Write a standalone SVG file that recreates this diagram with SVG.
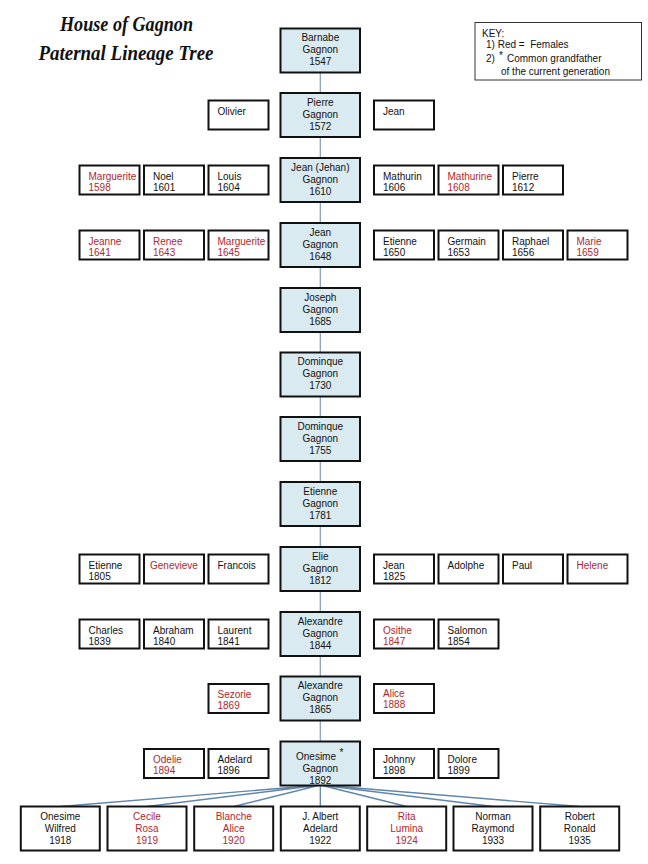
<svg xmlns="http://www.w3.org/2000/svg" width="648" height="864" viewBox="0 0 648 864">
<style>
text{font-family:"Liberation Sans",Arial,sans-serif;font-size:10px;fill:#111}
.f{fill:#b3262c}
.c{text-anchor:middle}
.main{fill:#daeaf1;stroke:#111;stroke-width:2}
.side{fill:#fff;stroke:#111;stroke-width:2}
.key{fill:#fff;stroke:#333;stroke-width:1}
.v{stroke:#8aa2ba;stroke-width:1.3;fill:none}
.fan{stroke:#5f86ad;stroke-width:1.3;fill:none}
.title{font-family:"Liberation Serif","DejaVu Serif",serif;font-style:italic;font-weight:bold;font-size:20px;text-anchor:middle}
</style>
<rect width="648" height="864" fill="#fff"/>
<g id="title">
<text class="title" x="126.5" y="31" textLength="133" lengthAdjust="spacingAndGlyphs">House of Gagnon</text>
<text class="title" x="126" y="60" textLength="175" lengthAdjust="spacingAndGlyphs">Paternal Lineage Tree</text>
</g>
<g id="key">
<rect class="key" x="475" y="22.5" width="166.5" height="57.5"/>
<text x="482" y="37">KEY:</text>
<text x="486" y="48">1) Red =&#160; Females</text>
<text x="486" y="62">2) </text>
<text x="499" y="59" font-size="12">*</text>
<text x="507" y="62">Common grandfather</text>
<text x="501" y="75">of the current generation</text>
</g>
<g id="connectors">
<path class="v" d="M320.3 72.5V93M320.3 137.5V158M320.3 202.5V223M320.3 267.5V288M320.3 332V352.5M320.3 396.5V417M320.3 461.5V482M320.3 526V547M320.3 591V612M320.3 656V676.5M320.3 720.5V741.5"/>
<path class="fan" d="M320.3 785L60.3 806.5M320.3 785L147 806.5M320.3 785L233.7 806.5M320.3 785L320.3 806.5M320.3 785L406.7 806.5M320.3 785L493 806.5M320.3 785L579.7 806.5"/>
</g>
<g id="barnabe"><rect class="main" x="280.5" y="28.5" width="79.5" height="44"/><text class="c" x="320.3" y="41">Barnabe</text><text class="c" x="320.3" y="53">Gagnon</text><text class="c" x="320.3" y="65">1547</text></g>
<g id="pierre"><rect class="main" x="280.5" y="93" width="79.5" height="44"/><text class="c" x="320.3" y="105.5">Pierre</text><text class="c" x="320.3" y="117.5">Gagnon</text><text class="c" x="320.3" y="129.5">1572</text></g>
<g id="olivier"><rect class="side" x="208.5" y="100.5" width="60" height="29"/><text x="217.5" y="114.5">Olivier</text></g>
<g id="jean1"><rect class="side" x="374" y="100.5" width="60" height="29"/><text x="383" y="114.5">Jean</text></g>

<g id="jehan"><rect class="main" x="280.5" y="158" width="79.5" height="44"/><text class="c" x="320.3" y="170.5">Jean (Jehan)</text><text class="c" x="320.3" y="182.5">Gagnon</text><text class="c" x="320.3" y="194.5">1610</text></g>
<g id="marguerite1598"><rect class="side" x="79.5" y="165.5" width="60" height="29"/><text class="f" x="88.5" y="179.5">Marguerite</text><text class="f" x="88.5" y="190.5">1598</text></g>
<g id="noel"><rect class="side" x="144" y="165.5" width="60" height="29"/><text x="153" y="179.5">Noel</text><text x="153" y="190.5">1601</text></g>
<g id="louis"><rect class="side" x="208.5" y="165.5" width="60" height="29"/><text x="217.5" y="179.5">Louis</text><text x="217.5" y="190.5">1604</text></g>
<g id="mathurin"><rect class="side" x="374" y="165.5" width="60" height="29"/><text x="383" y="179.5">Mathurin</text><text x="383" y="190.5">1606</text></g>
<g id="mathurine"><rect class="side" x="438.5" y="165.5" width="60" height="29"/><text class="f" x="447.5" y="179.5">Mathurine</text><text class="f" x="447.5" y="190.5">1608</text></g>
<g id="pierre1612"><rect class="side" x="503" y="165.5" width="60" height="29"/><text x="512" y="179.5">Pierre</text><text x="512" y="190.5">1612</text></g>

<g id="jean1648"><rect class="main" x="280.5" y="223" width="79.5" height="44"/><text class="c" x="320.3" y="235.5">Jean</text><text class="c" x="320.3" y="247.5">Gagnon</text><text class="c" x="320.3" y="259.5">1648</text></g>
<g id="jeanne"><rect class="side" x="79.5" y="230.5" width="60" height="29"/><text class="f" x="88.5" y="244.5">Jeanne</text><text class="f" x="88.5" y="255.5">1641</text></g>
<g id="renee"><rect class="side" x="144" y="230.5" width="60" height="29"/><text class="f" x="153" y="244.5">Renee</text><text class="f" x="153" y="255.5">1643</text></g>
<g id="marguerite1645"><rect class="side" x="208.5" y="230.5" width="60" height="29"/><text class="f" x="217.5" y="244.5">Marguerite</text><text class="f" x="217.5" y="255.5">1645</text></g>
<g id="etienne1650"><rect class="side" x="374" y="230.5" width="60" height="29"/><text x="383" y="244.5">Etienne</text><text x="383" y="255.5">1650</text></g>
<g id="germain"><rect class="side" x="438.5" y="230.5" width="60" height="29"/><text x="447.5" y="244.5">Germain</text><text x="447.5" y="255.5">1653</text></g>
<g id="raphael"><rect class="side" x="503" y="230.5" width="60" height="29"/><text x="512" y="244.5">Raphael</text><text x="512" y="255.5">1656</text></g>
<g id="marie"><rect class="side" x="567.5" y="230.5" width="60" height="29"/><text class="f" x="576.5" y="244.5">Marie</text><text class="f" x="576.5" y="255.5">1659</text></g>

<g id="joseph"><rect class="main" x="280.5" y="288" width="79.5" height="44"/><text class="c" x="320.3" y="300.5">Joseph</text><text class="c" x="320.3" y="312.5">Gagnon</text><text class="c" x="320.3" y="324.5">1685</text></g>
<g id="dominque1730"><rect class="main" x="280.5" y="352.5" width="79.5" height="44"/><text class="c" x="320.3" y="365">Dominque</text><text class="c" x="320.3" y="377">Gagnon</text><text class="c" x="320.3" y="389">1730</text></g>
<g id="dominque1755"><rect class="main" x="280.5" y="417" width="79.5" height="44"/><text class="c" x="320.3" y="429.5">Dominque</text><text class="c" x="320.3" y="441.5">Gagnon</text><text class="c" x="320.3" y="453.5">1755</text></g>
<g id="etienne1781"><rect class="main" x="280.5" y="482" width="79.5" height="44"/><text class="c" x="320.3" y="494.5">Etienne</text><text class="c" x="320.3" y="506.5">Gagnon</text><text class="c" x="320.3" y="518.5">1781</text></g>

<g id="elie"><rect class="main" x="280.5" y="547" width="79.5" height="44"/><text class="c" x="320.3" y="559.5">Elie</text><text class="c" x="320.3" y="571.5">Gagnon</text><text class="c" x="320.3" y="583.5">1812</text></g>
<g id="etienne1805"><rect class="side" x="79.5" y="554.5" width="60" height="29"/><text x="88.5" y="568.5">Etienne</text><text x="88.5" y="579.5">1805</text></g>
<g id="genevieve"><rect class="side" x="144" y="554.5" width="60" height="29"/><text class="f" x="150" y="568.5">Genevieve</text></g>
<g id="francois"><rect class="side" x="208.5" y="554.5" width="60" height="29"/><text x="217.5" y="568.5">Francois</text></g>
<g id="jean1825"><rect class="side" x="374" y="554.5" width="60" height="29"/><text x="383" y="568.5">Jean</text><text x="383" y="579.5">1825</text></g>
<g id="adolphe"><rect class="side" x="438.5" y="554.5" width="60" height="29"/><text x="447.5" y="568.5">Adolphe</text></g>
<g id="paul"><rect class="side" x="503" y="554.5" width="60" height="29"/><text x="512" y="568.5">Paul</text></g>
<g id="helene"><rect class="side" x="567.5" y="554.5" width="60" height="29"/><text class="f" x="576.5" y="568.5">Helene</text></g>

<g id="alexandre1844"><rect class="main" x="280.5" y="612" width="79.5" height="44"/><text class="c" x="320.3" y="624.5">Alexandre</text><text class="c" x="320.3" y="636.5">Gagnon</text><text class="c" x="320.3" y="648.5">1844</text></g>
<g id="charles"><rect class="side" x="79.5" y="619.5" width="60" height="29"/><text x="88.5" y="633.5">Charles</text><text x="88.5" y="644.5">1839</text></g>
<g id="abraham"><rect class="side" x="144" y="619.5" width="60" height="29"/><text x="153" y="633.5">Abraham</text><text x="153" y="644.5">1840</text></g>
<g id="laurent"><rect class="side" x="208.5" y="619.5" width="60" height="29"/><text x="217.5" y="633.5">Laurent</text><text x="217.5" y="644.5">1841</text></g>
<g id="osithe"><rect class="side" x="374" y="619.5" width="60" height="29"/><text class="f" x="383" y="633.5">Osithe</text><text class="f" x="383" y="644.5">1847</text></g>
<g id="salomon"><rect class="side" x="438.5" y="619.5" width="60" height="29"/><text x="447.5" y="633.5">Salomon</text><text x="447.5" y="644.5">1854</text></g>

<g id="alexandre1865"><rect class="main" x="280.5" y="676.5" width="79.5" height="44"/><text class="c" x="320.3" y="689">Alexandre</text><text class="c" x="320.3" y="701">Gagnon</text><text class="c" x="320.3" y="713">1865</text></g>
<g id="sezorie"><rect class="side" x="208.5" y="684" width="60" height="29"/><text class="f" x="217.5" y="698">Sezorie</text><text class="f" x="217.5" y="709">1869</text></g>
<g id="alice"><rect class="side" x="374" y="684" width="60" height="29"/><text class="f" x="383" y="697">Alice</text><text class="f" x="383" y="708">1888</text></g>

<g id="onesime1892"><rect class="main" x="280.5" y="741.5" width="79.5" height="44"/><text class="c" x="316" y="759.5">Onesime</text><text x="339.5" y="756" font-size="12">*</text><text class="c" x="320.3" y="772">Gagnon</text><text class="c" x="320.3" y="783.5">1892</text></g>
<g id="odelie"><rect class="side" x="144" y="749" width="60" height="29"/><text class="f" x="153" y="763">Odelie</text><text class="f" x="153" y="774">1894</text></g>
<g id="adelard1896"><rect class="side" x="208.5" y="749" width="60" height="29"/><text x="217.5" y="763">Adelard</text><text x="217.5" y="774">1896</text></g>
<g id="johnny"><rect class="side" x="374" y="749" width="60" height="29"/><text x="383" y="763">Johnny</text><text x="383" y="774">1898</text></g>
<g id="dolore"><rect class="side" x="438.5" y="749" width="60" height="29"/><text x="447.5" y="763">Dolore</text><text x="447.5" y="774">1899</text></g>

<g id="onesimewilfred"><rect class="side" x="20.8" y="806.5" width="79" height="44"/><text class="c" x="60.3" y="820">Onesime</text><text class="c" x="60.3" y="832">Wilfred</text><text class="c" x="60.3" y="844">1918</text></g>
<g id="cecile"><rect class="side" x="107.5" y="806.5" width="79" height="44"/><text class="c f" x="147" y="820">Cecile</text><text class="c f" x="147" y="832">Rosa</text><text class="c f" x="147" y="844">1919</text></g>
<g id="blanche"><rect class="side" x="194.2" y="806.5" width="79" height="44"/><text class="c f" x="233.7" y="820">Blanche</text><text class="c f" x="233.7" y="832">Alice</text><text class="c f" x="233.7" y="844">1920</text></g>
<g id="jalbert"><rect class="side" x="280.8" y="806.5" width="79" height="44"/><text class="c" x="320.3" y="820">J. Albert</text><text class="c" x="320.3" y="832">Adelard</text><text class="c" x="320.3" y="844">1922</text></g>
<g id="rita"><rect class="side" x="367.2" y="806.5" width="79" height="44"/><text class="c f" x="406.7" y="820">Rita</text><text class="c f" x="406.7" y="832">Lumina</text><text class="c f" x="406.7" y="844">1924</text></g>
<g id="norman"><rect class="side" x="453.5" y="806.5" width="79" height="44"/><text class="c" x="493" y="820">Norman</text><text class="c" x="493" y="832">Raymond</text><text class="c" x="493" y="844">1933</text></g>
<g id="robert"><rect class="side" x="540.2" y="806.5" width="79" height="44"/><text class="c" x="579.7" y="820">Robert</text><text class="c" x="579.7" y="832">Ronald</text><text class="c" x="579.7" y="844">1935</text></g>
</svg>
